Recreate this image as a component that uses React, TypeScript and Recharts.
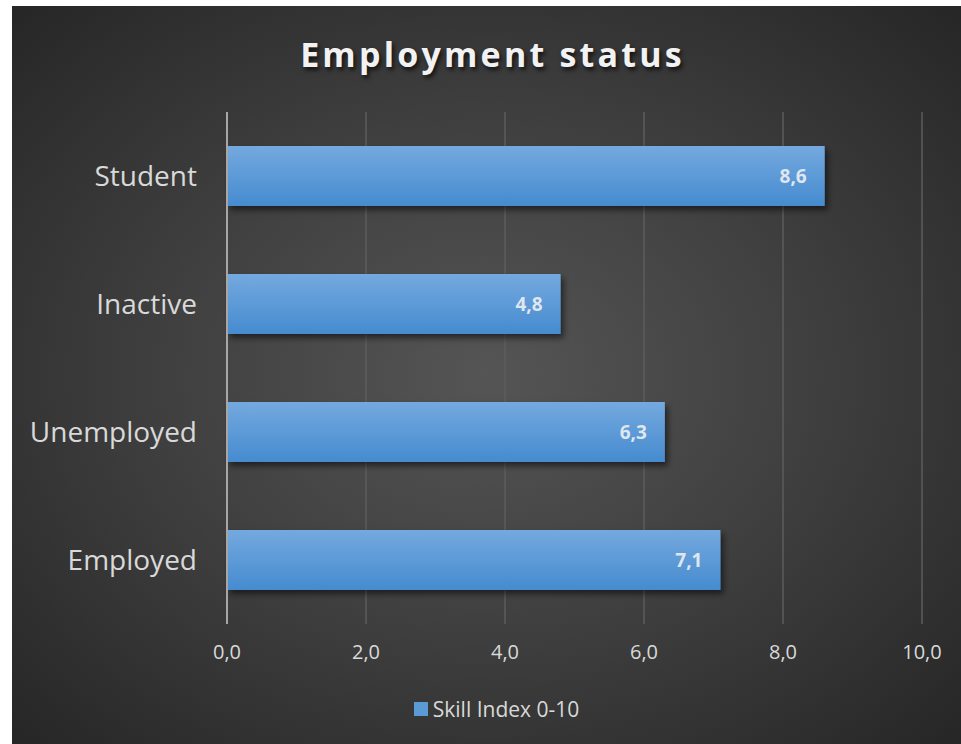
import React from 'react';
import { BarChart, Bar, XAxis, YAxis, CartesianGrid, Legend, LabelList } from 'recharts';

const categories = ['Student', 'Inactive', 'Unemployed', 'Employed'];
const skillIndex = [8.6, 4.8, 6.3, 7.1];
const xTicks = [0, 2, 4, 6, 8, 10];
const seriesName = 'Skill Index 0-10';

const data = categories.map((name, i) => ({ name, value: skillIndex[i] }));

const FONT = '"Open Sans", "Noto Sans", sans-serif';
const fmt = (v: number) => v.toFixed(1).replace('.', ',');

const LegendContent = () => (
  <div style={{ height: 24, paddingLeft: 44, display: 'flex', justifyContent: 'center', alignItems: 'center', fontFamily: FONT, fontSize: 21, color: '#d9d9d9' }}>
    <span style={{ width: 14, height: 14, background: '#5b9bd5', marginRight: 5, display: 'inline-block' }} />
    {seriesName}
  </div>
);

export default function App() {
  return (
    <div style={{ position: 'absolute', left: 12, top: 6, width: 949, height: 738,
      background: 'radial-gradient(ellipse at 50% 50%, #555555 0%, #414141 45%, #262626 100%)' }}>
      <div style={{ position: 'absolute', top: 25, left: 0, width: 961, textAlign: 'center', fontFamily: FONT,
        fontWeight: 700, fontSize: 34, letterSpacing: 3.2, color: '#f2f2f2', textShadow: '2px 3px 4px rgba(0,0,0,0.7)' }}>
        Employment status
      </div>
      <BarChart width={949} height={738} data={data} layout="vertical"
        margin={{ top: 106, right: 39, bottom: 23, left: 15 }} barCategoryGap="26.5%">
        <defs>
          <linearGradient id="barFill" x1="0" y1="0" x2="0" y2="1">
            <stop offset="0%" stopColor="#74a9df" />
            <stop offset="100%" stopColor="#468bcf" />
          </linearGradient>
          <filter id="barShadow" x="-5%" y="-20%" width="110%" height="160%">
            <feDropShadow dx="3" dy="4" stdDeviation="3" floodColor="#000" floodOpacity="0.55" />
          </filter>
        </defs>
        <CartesianGrid horizontal={false} stroke="#5c5c5c" strokeWidth={1.5} />
        <XAxis type="number" domain={[0, 10]} ticks={xTicks} tickFormatter={fmt} height={73}
          axisLine={false} tickLine={false} tickSize={0} tickMargin={21}
          tick={{ fill: '#d9d9d9', fontSize: 20, fontFamily: FONT }} />
        <YAxis type="category" dataKey="name" width={200} tickLine={false} tickSize={0} tickMargin={30}
          axisLine={{ stroke: '#a6a6a6', strokeWidth: 2 }}
          tick={{ fill: '#d9d9d9', fontSize: 28, fontFamily: FONT }} />
        <Legend verticalAlign="bottom" content={<LegendContent />} />
        <Bar dataKey="value" name={seriesName} fill="url(#barFill)" filter="url(#barShadow)" isAnimationActive={false}>
          <LabelList dataKey="value" position="insideRight" offset={18} formatter={(v: any) => fmt(Number(v))}
            style={{ fill: '#dfe6ee', fontSize: 19, fontWeight: 700, fontFamily: FONT }} />
        </Bar>
      </BarChart>
    </div>
  );
}
